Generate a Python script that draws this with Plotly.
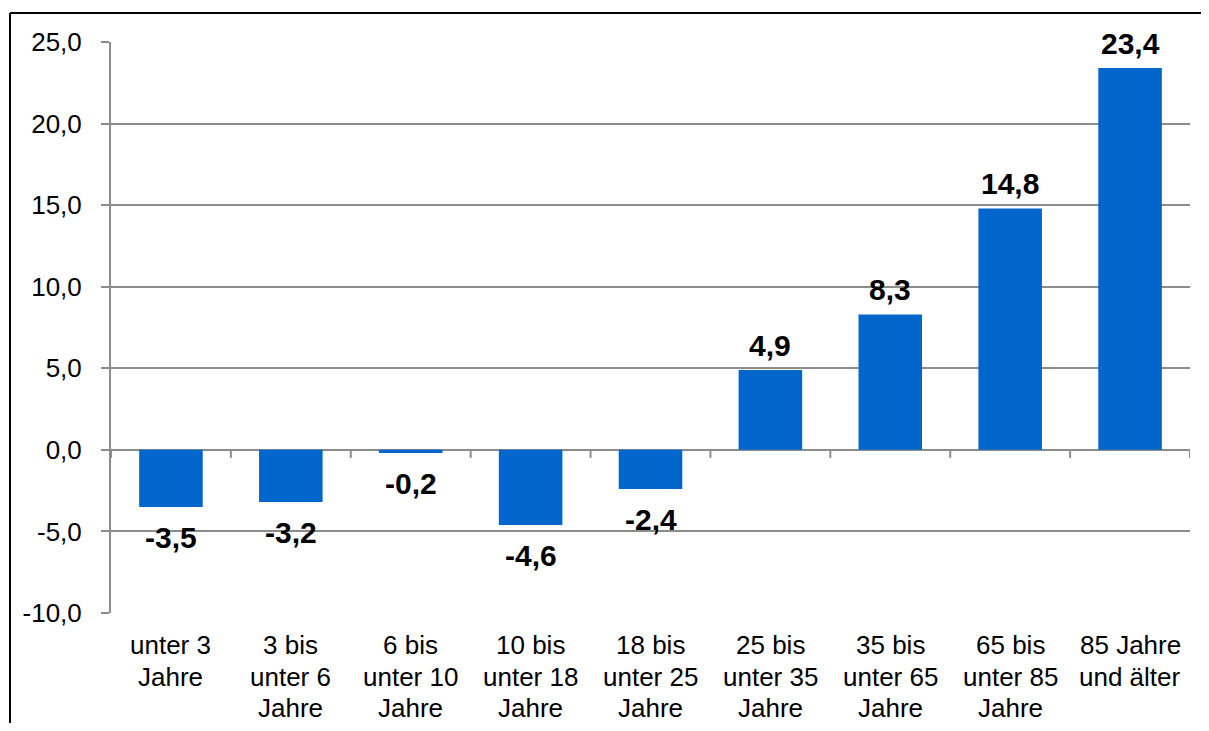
import plotly.graph_objects as go

categories = [["unter 3", "Jahre"], ["3 bis", "unter 6", "Jahre"], ["6 bis", "unter 10", "Jahre"],
              ["10 bis", "unter 18", "Jahre"], ["18 bis", "unter 25", "Jahre"], ["25 bis", "unter 35", "Jahre"],
              ["35 bis", "unter 65", "Jahre"], ["65 bis", "unter 85", "Jahre"], ["85 Jahre", "und älter"]]
values = [-3.5, -3.2, -0.2, -4.6, -2.4, 4.9, 8.3, 14.8, 23.4]
y_ticks = [-10, -5, 0, 5, 10, 15, 20, 25]
y_ticktext = ["-10,0", "-5,0", "0,0", "5,0", "10,0", "15,0", "20,0", "25,0"]

FONT = "Liberation Sans, Arial, sans-serif"
GRID = "#8c8c8c"
OFF = 8  # page body margin
W, H = 1209 - 2 * OFF, 731 - 2 * OFF
L, R, T, B = 111 - OFF, 19 - OFF, 42 - OFF, 118 - OFF

xs = list(range(len(categories)))
fig = go.Figure()
fig.add_trace(go.Bar(x=xs, y=values, width=0.53, marker=dict(color="#0066CC", line=dict(width=0)),
                     hoverinfo="skip"))

# data labels
for x, v in zip(xs, values):
    fig.add_annotation(x=x, y=v, text="<b>" + f"{v:.1f}".replace(".", ",") + "</b>",
                       showarrow=False, font=dict(family=FONT, size=30, color="black"),
                       yanchor="bottom" if v >= 0 else "top",
                       yshift=6 if v >= 0 else -12)

# category labels, one annotation per line
for x, lines in zip(xs, categories):
    for k, line in enumerate(lines):
        fig.add_annotation(x=x, xref="x", y=0, yref="paper", text=line, showarrow=False,
                           font=dict(family=FONT, size=26, color="black"),
                           yanchor="middle", yshift=-(32 + k * 31.5))

# tick marks on zero line at category boundaries
for i in range(len(categories) + 1):
    b = i - 0.5
    fig.add_shape(type="line", xref="x", yref="y", x0=b, x1=b, ysizemode="pixel", yanchor=0,
                  y0=0, y1=-8, line=dict(color=GRID, width=2))

# outer frame (top and left edges visible)
pw, ph = W - L - R, H - T - B
fx0 = (2 - L) / pw
fx1 = (W - L) / pw
fy1 = 1 + (T - 5) / ph
fy0 = -(B + 2) / ph
fig.add_shape(type="line", xref="paper", yref="paper", x0=fx0, x1=fx1, y0=fy1, y1=fy1,
              line=dict(color="black", width=2), layer="below")
fig.add_shape(type="line", xref="paper", yref="paper", x0=fx0, x1=fx0, y0=fy0, y1=fy1,
              line=dict(color="black", width=2), layer="below")

fig.update_layout(
    width=W, height=H, margin=dict(l=L, r=R, t=T, b=B, autoexpand=False),
    paper_bgcolor="white", plot_bgcolor="white", showlegend=False,
    font=dict(family=FONT, size=26, color="black"),
    xaxis=dict(range=[-0.5, len(categories) - 0.5], showticklabels=False,
               showgrid=False, zeroline=False, showline=False, ticks=""),
    yaxis=dict(range=[-10, 25], tickmode="array", tickvals=y_ticks, ticktext=y_ticktext,
               showgrid=True, gridcolor=GRID, gridwidth=2, zeroline=False,
               showline=True, linecolor=GRID, linewidth=2,
               ticks="outside", ticklen=8, tickcolor=GRID, tickwidth=2,
               ticklabelstandoff=14,
               tickfont=dict(family=FONT, size=26, color="black")),
)
fig.write_html("out.html")
